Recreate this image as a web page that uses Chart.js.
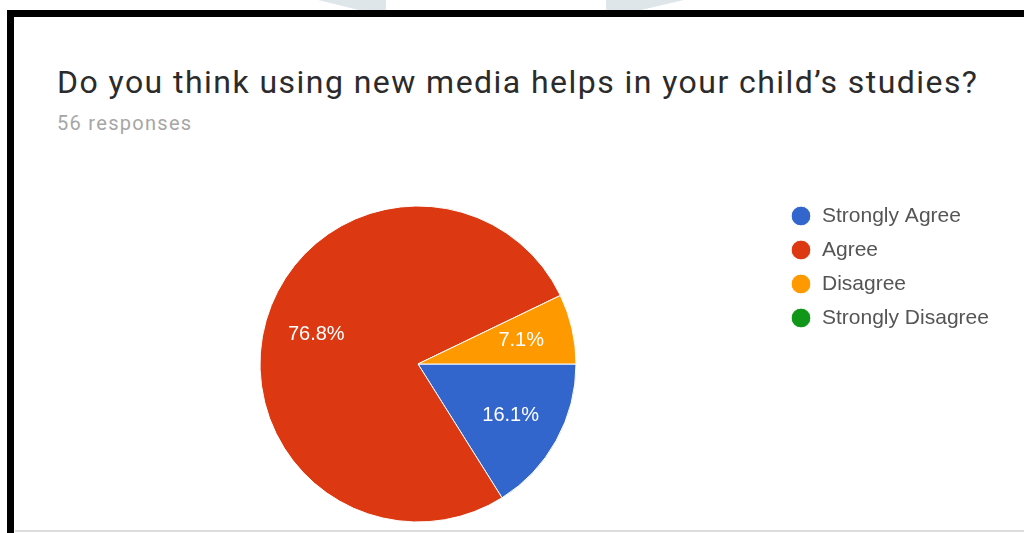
<!DOCTYPE html>
<html>
<head>
<meta charset="utf-8">
<script src="https://cdn.jsdelivr.net/npm/chart.js@4/dist/chart.umd.min.js"></script>
<style>
    html, body { margin: 0; padding: 0; background: #fff; }
    body { width: 1024px; height: 533px; overflow: hidden; position: relative; }
    .mark { position: absolute; top: 0; height: 10px; background: #dfe6ea; }
    .mark.a { left: 318px; width: 68px; clip-path: polygon(0 0, 100% 0, 100% 100%, 60% 100%); }
    .mark.b { left: 606px; width: 78px; clip-path: polygon(0 0, 100% 0, 45% 100%, 0 100%); }
    .frame { position: absolute; left: 7px; top: 10px; width: 1030px; height: 540px;
             border-left: 7px solid #000; border-top: 7px solid #000; }
    .baseline { position: absolute; left: 15px; right: 0; top: 530px; height: 2px; background: #dcdcdc; }
    .title { position: absolute; left: 57px; top: 66px; font: 32px/32px Roboto, sans-serif; letter-spacing: 1.45px; color: #2b2b2b; white-space: nowrap; }
    .sub { position: absolute; left: 57px; top: 113px; font: 20px/20px Roboto, sans-serif; letter-spacing: 1.3px; color: #a6a6a6; white-space: nowrap; }
    .chart-box { position: absolute; left: 0; top: 0; width: 1024px; height: 560px; }
</style>
</head>
<body>
<div class="mark a"></div>
<div class="mark b"></div>
<div class="frame"></div>
<div class="baseline"></div>
<div class="title">Do you think using new media helps in your child’s studies?</div>
<div class="sub">56 responses</div>
<div class="chart-box"><canvas id="respostasChart"></canvas></div>

<script>
// Dados do gráfico
const categorias = ['Strongly Agree', 'Agree', 'Disagree', 'Strongly Disagree'];
const respostas = [9, 43, 4, 0];
const cores = ['#3366cc', '#dc3912', '#ff9900', '#109618'];

const fonteLegenda = '"Liberation Sans", Arial, sans-serif';

// Percentuais escritos dentro das fatias
const rotulosFatias = {
    id: 'rotulosFatias',
    afterDatasetsDraw(chart) {
        const ctx = chart.ctx;
        const total = respostas.reduce((a, b) => a + b, 0);
        const meta = chart.getDatasetMeta(0);
        ctx.save();
        ctx.font = '20px ' + fonteLegenda;
        ctx.fillStyle = '#ffffff';
        ctx.textAlign = 'center';
        ctx.textBaseline = 'middle';
        meta.data.forEach((arc, i) => {
            if (!respostas[i]) return;
            const p = arc.getProps(['x', 'y', 'startAngle', 'endAngle', 'outerRadius'], true);
            const meio = (p.startAngle + p.endAngle) / 2;
            const r = p.outerRadius * 0.67;
            const texto = (respostas[i] / total * 100).toFixed(1) + '%';
            ctx.fillText(texto, p.x + Math.cos(meio) * r, p.y + Math.sin(meio) * r);
        });
        ctx.restore();
    }
};

document.addEventListener('DOMContentLoaded', function() {
    const canvas = document.getElementById('respostasChart');
    const ctx = canvas.getContext('2d');

    // Largura da legenda: padding + caixa + meio espaço + maior texto + 10 (como o Chart.js calcula)
    ctx.font = '21px ' + fonteLegenda;
    const maiorTexto = Math.max(...categorias.map(t => ctx.measureText(t).width));
    const larguraLegenda = 13 + 21 + 10.5 + maiorTexto + 10;
    const direita = 1024 - 777.5 - larguraLegenda;

    new Chart(ctx, {
        type: 'pie',
        data: {
            labels: categorias,
            datasets: [{
                data: respostas,
                backgroundColor: cores,
                borderColor: '#ffffff',
                borderWidth: 1,
                radius: 158
            }]
        },
        options: {
            responsive: true,
            maintainAspectRatio: false,
            animation: false,
            rotation: 90,
            layout: {
                padding: { left: 58.5, right: direita, top: 192.5, bottom: 24.5 }
            },
            plugins: {
                legend: {
                    position: 'right',
                    align: 'start',
                    labels: {
                        usePointStyle: true,
                        pointStyle: 'circle',
                        boxWidth: 21,
                        boxHeight: 14,
                        padding: 13,
                        color: '#555555',
                        font: { family: fonteLegenda, size: 21 }
                    }
                },
                tooltip: { enabled: false }
            }
        },
        plugins: [rotulosFatias]
    });
});
</script>
</body>
</html>
